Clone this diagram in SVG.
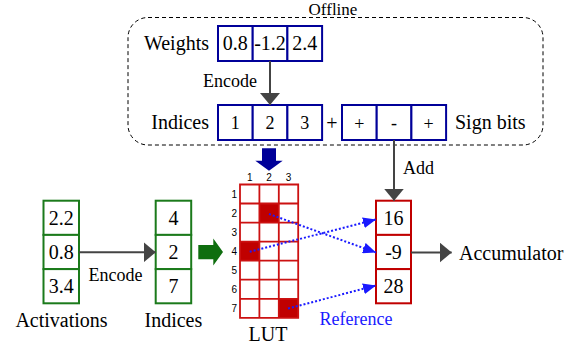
<svg xmlns="http://www.w3.org/2000/svg" width="571" height="347" viewBox="0 0 571 347" font-family="'Liberation Serif', 'Times New Roman', Times, 'DejaVu Serif', serif">
<defs>
<style>
text{font-family:'Liberation Serif','Times New Roman',Times,'DejaVu Serif',serif;fill:#000}
.l20{font-size:20px}
.l18{font-size:18px}
.l17{font-size:17px}
.c{text-anchor:middle}
.r{text-anchor:end}
text.small{font-family:'Liberation Sans',Arial,'DejaVu Sans',sans-serif;font-size:10px;text-anchor:middle}
.bbox{fill:#fff;stroke:#000099;stroke-width:2}
.gbox{fill:#fff;stroke:#1b7a1b;stroke-width:2}
.rbox{fill:#fff;stroke:#c00000;stroke-width:2}
.grid{fill:none;stroke:#cc1111;stroke-width:1.8}
.hit{fill:#c00000}
.arrow{stroke:#444;stroke-width:2;fill:none}
.ref{stroke:#1a1aff;stroke-width:2;stroke-dasharray:2 2;fill:none}
text.blue{fill:#1a1aff}
</style>
<marker id="ah" markerUnits="userSpaceOnUse" markerWidth="12" markerHeight="20" refX="12" refY="10" orient="auto">
<path d="M0,0 L12,10 L0,20 z" fill="#444"/>
</marker>
<marker id="bh" markerUnits="userSpaceOnUse" markerWidth="13" markerHeight="11" refX="13" refY="5.5" orient="auto">
<path d="M0,0 L13,5.5 L0,11 z" fill="#1a1aff"/>
</marker>
</defs>
<rect width="571" height="347" fill="#fff"/>

<g id="offline">
<rect x="128" y="17.5" width="415" height="127.5" rx="20" fill="none" stroke="#000" stroke-width="1" stroke-dasharray="4 3"/>
<text class="l17 c" x="333" y="15.3">Offline</text>
</g>

<g id="weights">
<text class="l20 r" x="209" y="50">Weights</text>
<rect class="bbox" x="218" y="26" width="34.7" height="35"/>
<rect class="bbox" x="252.7" y="26" width="34.7" height="35"/>
<rect class="bbox" x="287.4" y="26" width="34.7" height="35"/>
<text class="l20 c" x="235.3" y="50">0.8</text>
<text class="l20 c" x="270" y="50">-1.2</text>
<text class="l20 c" x="304.7" y="50">2.4</text>
</g>

<g id="weight-indices">
<text class="l20 r" x="209" y="129">Indices</text>
<rect class="bbox" x="218" y="105" width="34.7" height="35"/>
<rect class="bbox" x="252.7" y="105" width="34.7" height="35"/>
<rect class="bbox" x="287.4" y="105" width="34.7" height="35"/>
<text class="l18 c" x="235.3" y="129">1</text>
<text class="l18 c" x="270" y="129">2</text>
<text class="l18 c" x="304.7" y="129">3</text>
<text class="l20 c" x="332" y="130">+</text>
</g>

<g id="sign-bits">
<rect class="bbox" x="342" y="105" width="34.7" height="35"/>
<rect class="bbox" x="376.7" y="105" width="34.7" height="35"/>
<rect class="bbox" x="411.4" y="105" width="34.7" height="35"/>
<text class="l18 c" x="359.3" y="130">+</text>
<text class="l18 c" x="394" y="129">-</text>
<text class="l18 c" x="428.7" y="130">+</text>
<text class="l20" x="455" y="129">Sign bits</text>
</g>

<g id="activations">
<rect class="gbox" x="43.5" y="200.7" width="35.5" height="34.2"/>
<rect class="gbox" x="43.5" y="234.9" width="35.5" height="34.2"/>
<rect class="gbox" x="43.5" y="269.1" width="35.5" height="34.2"/>
<text class="l20 c" x="61.2" y="225">2.2</text>
<text class="l20 c" x="61.2" y="259">0.8</text>
<text class="l20 c" x="61.2" y="293">3.4</text>
<text class="l20 c" x="61.5" y="327">Activations</text>
</g>

<g id="act-indices">
<rect class="gbox" x="155.7" y="200.7" width="35.5" height="34.2"/>
<rect class="gbox" x="155.7" y="234.9" width="35.5" height="34.2"/>
<rect class="gbox" x="155.7" y="269.1" width="35.5" height="34.2"/>
<text class="l20 c" x="173.4" y="225">4</text>
<text class="l20 c" x="173.4" y="259">2</text>
<text class="l20 c" x="173.4" y="293">7</text>
<text class="l20 c" x="173.4" y="327">Indices</text>
</g>

<g id="lut">
<rect class="hit" x="259.4" y="203.5" width="19.4" height="19.1"/>
<rect class="hit" x="240" y="241.6" width="19.4" height="19.1"/>
<rect class="hit" x="278.8" y="298.8" width="19.4" height="19"/>
<path class="grid" d="M240,184.5 H298.2 V317.8 H240 Z M259.4,184.5 V317.8 M278.8,184.5 V317.8 M240,203.5 H298.2 M240,222.6 H298.2 M240,241.6 H298.2 M240,260.7 H298.2 M240,279.7 H298.2 M240,298.8 H298.2"/>
<text class="small" x="249.7" y="181">1</text>
<text class="small" x="269.1" y="181">2</text>
<text class="small" x="288.5" y="181">3</text>
<text class="small" x="234.3" y="197.6">1</text>
<text class="small" x="234.3" y="216.6">2</text>
<text class="small" x="234.3" y="235.7">3</text>
<text class="small" x="234.3" y="254.7">4</text>
<text class="small" x="234.3" y="273.8">5</text>
<text class="small" x="234.3" y="292.8">6</text>
<text class="small" x="234.3" y="311.9">7</text>
<text class="l20 c" x="268" y="341">LUT</text>
</g>

<g id="results">
<rect class="rbox" x="376" y="200.7" width="35" height="34.2"/>
<rect class="rbox" x="376" y="234.9" width="35" height="34.2"/>
<rect class="rbox" x="376" y="269.1" width="35" height="34.2"/>
<text class="l20 c" x="393.5" y="225">16</text>
<text class="l20 c" x="393.5" y="259">-9</text>
<text class="l20 c" x="393.5" y="293">28</text>
</g>

<g id="accumulator">
<text class="l20" x="459" y="259.5">Accumulator</text>
</g>

<g id="connectors">
<line class="arrow" x1="270" y1="61" x2="270" y2="105" marker-end="url(#ah)"/>
<text class="l18" x="203" y="87">Encode</text>
<line class="arrow" x1="394" y1="140" x2="394" y2="200.7" marker-end="url(#ah)"/>
<text class="l18" x="403" y="173.5">Add</text>
<line class="arrow" x1="79" y1="252.3" x2="155.7" y2="252.3" marker-end="url(#ah)"/>
<text class="l18" x="88.5" y="280.7">Encode</text>
<line class="arrow" x1="411" y1="252.5" x2="451.7" y2="252.5" marker-end="url(#ah)"/>
<polygon points="262,148.3 276,148.3 276,160.7 282.7,160.7 269,170.7 255.3,160.7 262,160.7" fill="#000099"/>
<polygon points="198.3,245 213.3,245 213.3,238.5 223,252 213.3,265.5 213.3,259.3 198.3,259.3" fill="#0f6e0f"/>
<line class="ref" x1="269" y1="214" x2="376" y2="252.5" marker-end="url(#bh)"/>
<line class="ref" x1="249.7" y1="251.7" x2="376" y2="219.5" marker-end="url(#bh)"/>
<line class="ref" x1="288" y1="308.5" x2="376" y2="285.5" marker-end="url(#bh)"/>
<text class="l18 blue" x="319.5" y="325">Reference</text>
</g>
</svg>
